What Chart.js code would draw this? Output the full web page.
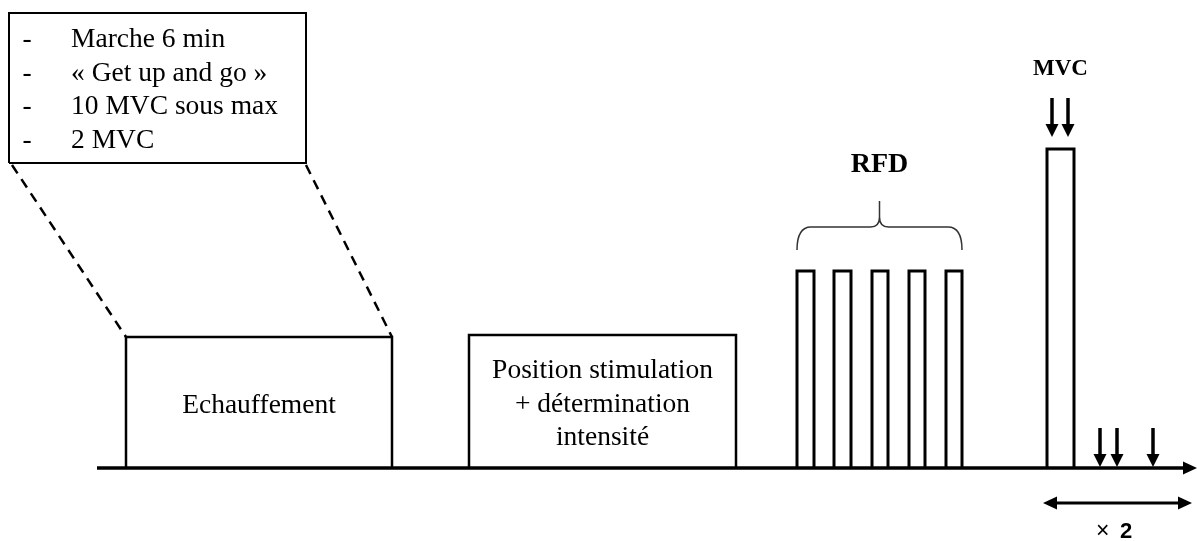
<!DOCTYPE html>
<html>
<head>
<meta charset="utf-8">
<title>Protocole</title>
<script src="https://cdn.jsdelivr.net/npm/chart.js@4.4.1/dist/chart.umd.min.js"></script>
<style>
  html, body { margin: 0; padding: 0; background: #ffffff; }
  #wrap { width: 1198px; height: 541px; }
</style>
</head>
<body>
<div id="wrap"><canvas id="protocolChart"></canvas></div>
<script>
  // --- data (x = time along the protocol, y = height above the time axis) ---
  const phaseLabels = [['Echauffement'], ['Position stimulation', '+ détermination', 'intensité']];
  const phaseStart = [126, 469];
  const phaseEnd = [392, 736];
  const phaseHeight = [131, 133];

  const rfdStart = [797, 834, 872, 909, 946];
  const rfdEnd = [814, 851, 888, 925, 962];
  const rfdHeight = [197, 197, 197, 197, 197];

  const mvcStart = [1047];
  const mvcEnd = [1074];
  const mvcHeight = [319];

  const mvcArrowX = [1052, 1068];
  const postArrowX = [1100, 1117, 1153];

  const warmupItems = ['Marche 6 min', '« Get up and go »', '10 MVC sous max', '2 MVC'];
  const repeatLabel = ['×', '2'];

  const axisStart = 97;
  const axisEnd = 1197;

  const black = '#000000';

  // open-bottom rectangle standing on the time axis
  function block(x0, x1, h, width) {
    return {
      data: [{ x: x0, y: 0 }, { x: x0, y: h }, { x: x1, y: h }, { x: x1, y: 0 }],
      showLine: true,
      borderColor: black,
      borderWidth: width || 2.5,
      pointRadius: 0,
      tension: 0,
      fill: false
    };
  }

  const datasets = [];
  phaseStart.forEach((s, i) => datasets.push(block(s, phaseEnd[i], phaseHeight[i])));
  rfdStart.forEach((s, i) => datasets.push(block(s, rfdEnd[i], rfdHeight[i], 3)));
  mvcStart.forEach((s, i) => datasets.push(block(s, mvcEnd[i], mvcHeight[i], 3)));

  // zoom box with the warm-up details
  const zoomBox = { x0: 9, x1: 306, y0: 305, y1: 455 };
  datasets.push({
    data: [
      { x: zoomBox.x0, y: zoomBox.y0 }, { x: zoomBox.x0, y: zoomBox.y1 },
      { x: zoomBox.x1, y: zoomBox.y1 }, { x: zoomBox.x1, y: zoomBox.y0 },
      { x: zoomBox.x0, y: zoomBox.y0 }
    ],
    showLine: true, borderColor: black, borderWidth: 2, pointRadius: 0, fill: false
  });
  // dashed links from the box down to the warm-up block
  [[zoomBox.x0 + 3, phaseStart[0]], [zoomBox.x1, phaseEnd[0]]].forEach(([a, b]) => {
    datasets.push({
      data: [{ x: a, y: zoomBox.y0 - 2 }, { x: b, y: phaseHeight[0] }],
      showLine: true, borderColor: black, borderWidth: 2.5, borderDash: [10, 7],
      pointRadius: 0, fill: false
    });
  });
  // time axis
  datasets.push({
    data: [{ x: axisStart, y: 0 }, { x: axisEnd - 10, y: 0 }],
    showLine: true, borderColor: black, borderWidth: 3.5, pointRadius: 0, fill: false
  });

  // text, arrows and brace drawn on top using the chart scales
  const diagramPlugin = {
    id: 'diagram',
    afterDatasetsDraw(chart) {
      const { ctx, scales: { x, y } } = chart;
      const px = v => x.getPixelForValue(v);
      const py = v => y.getPixelForValue(v);
      ctx.save();
      ctx.fillStyle = black;
      ctx.strokeStyle = black;

      function downArrow(xv, topV, tipV) {
        const xx = px(xv), top = py(topV), tip = py(tipV);
        ctx.lineWidth = 3.5;
        ctx.beginPath();
        ctx.moveTo(xx, top);
        ctx.lineTo(xx, tip - 10);
        ctx.stroke();
        ctx.beginPath();
        ctx.moveTo(xx - 6.5, tip - 13);
        ctx.lineTo(xx + 6.5, tip - 13);
        ctx.lineTo(xx, tip);
        ctx.closePath();
        ctx.fill();
      }
      function headH(xTip, yy, dir) {
        ctx.beginPath();
        ctx.moveTo(xTip, yy);
        ctx.lineTo(xTip - dir * 14, yy - 6.5);
        ctx.lineTo(xTip - dir * 14, yy + 6.5);
        ctx.closePath();
        ctx.fill();
      }

      // axis arrow head
      headH(px(axisEnd), py(0), 1);

      // arrows
      mvcArrowX.forEach(v => downArrow(v, 370, 331));
      postArrowX.forEach(v => downArrow(v, 40, 1));

      // repeat double arrow
      const ra = px(mvcStart[0] - 4), rb = px(axisEnd - 5), ry = py(-35);
      ctx.lineWidth = 3;
      ctx.beginPath();
      ctx.moveTo(ra + 8, ry);
      ctx.lineTo(rb - 8, ry);
      ctx.stroke();
      headH(ra, ry, -1);
      headH(rb, ry, 1);

      // brace over the RFD bars
      const b0 = px(rfdStart[0]), b1 = px(rfdEnd[rfdEnd.length - 1]);
      const bm = (b0 + b1) / 2;
      const bLow = py(218), bLine = py(241), bTip = py(267);
      ctx.strokeStyle = '#333333';
      ctx.lineWidth = 1.5;
      ctx.beginPath();
      ctx.moveTo(b0, bLow);
      ctx.quadraticCurveTo(b0, bLine, b0 + 14, bLine);
      ctx.lineTo(bm - 9, bLine);
      ctx.quadraticCurveTo(bm, bLine, bm, bLine - 10);
      ctx.lineTo(bm, bTip);
      ctx.moveTo(bm, bLine - 10);
      ctx.quadraticCurveTo(bm, bLine, bm + 9, bLine);
      ctx.lineTo(b1 - 14, bLine);
      ctx.quadraticCurveTo(b1, bLine, b1, bLow);
      ctx.stroke();

      // labels
      ctx.textBaseline = 'alphabetic';
      ctx.textAlign = 'center';
      ctx.font = '27.5px "Liberation Serif", "Times New Roman", serif';
      phaseLabels.forEach((lines, i) => {
        const cx = px((phaseStart[i] + phaseEnd[i]) / 2);
        const first = lines.length === 1 ? 413 : 378;
        lines.forEach((t, k) => ctx.fillText(t, cx, first + k * 33.5));
      });

      ctx.font = 'bold 28px "Liberation Serif", "Times New Roman", serif';
      ctx.fillText('RFD', bm, 172);
      ctx.font = 'bold 23px "Liberation Serif", "Times New Roman", serif';
      ctx.fillText('MVC', px((mvcStart[0] + mvcEnd[0]) / 2), 75);

      ctx.font = '27.5px "Liberation Serif", "Times New Roman", serif';
      warmupItems.forEach((t, k) => {
        const base = 47 + k * 33.5;
        ctx.textAlign = 'center';
        ctx.fillText('-', px(zoomBox.x0 + 18), base);
        ctx.textAlign = 'left';
        ctx.fillText(t, px(zoomBox.x0 + 62), base);
      });

      ctx.textAlign = 'left';
      ctx.font = '23px "Liberation Sans", Arial, sans-serif';
      ctx.fillText(repeatLabel[0], 1096, 538);
      ctx.font = 'bold 22px "Liberation Sans", Arial, sans-serif';
      ctx.fillText(repeatLabel[1], 1120, 538);
      ctx.restore();
    }
  };

  new Chart(document.getElementById('protocolChart'), {
    type: 'scatter',
    data: { datasets },
    options: {
      responsive: true,
      maintainAspectRatio: false,
      animation: false,
      events: [],
      layout: { padding: 0 },
      scales: {
        x: { type: 'linear', min: 0, max: 1198, display: false },
        y: { type: 'linear', min: -73, max: 468, display: false }
      },
      plugins: {
        legend: { display: false },
        tooltip: { enabled: false }
      }
    },
    plugins: [diagramPlugin]
  });
</script>
</body>
</html>
